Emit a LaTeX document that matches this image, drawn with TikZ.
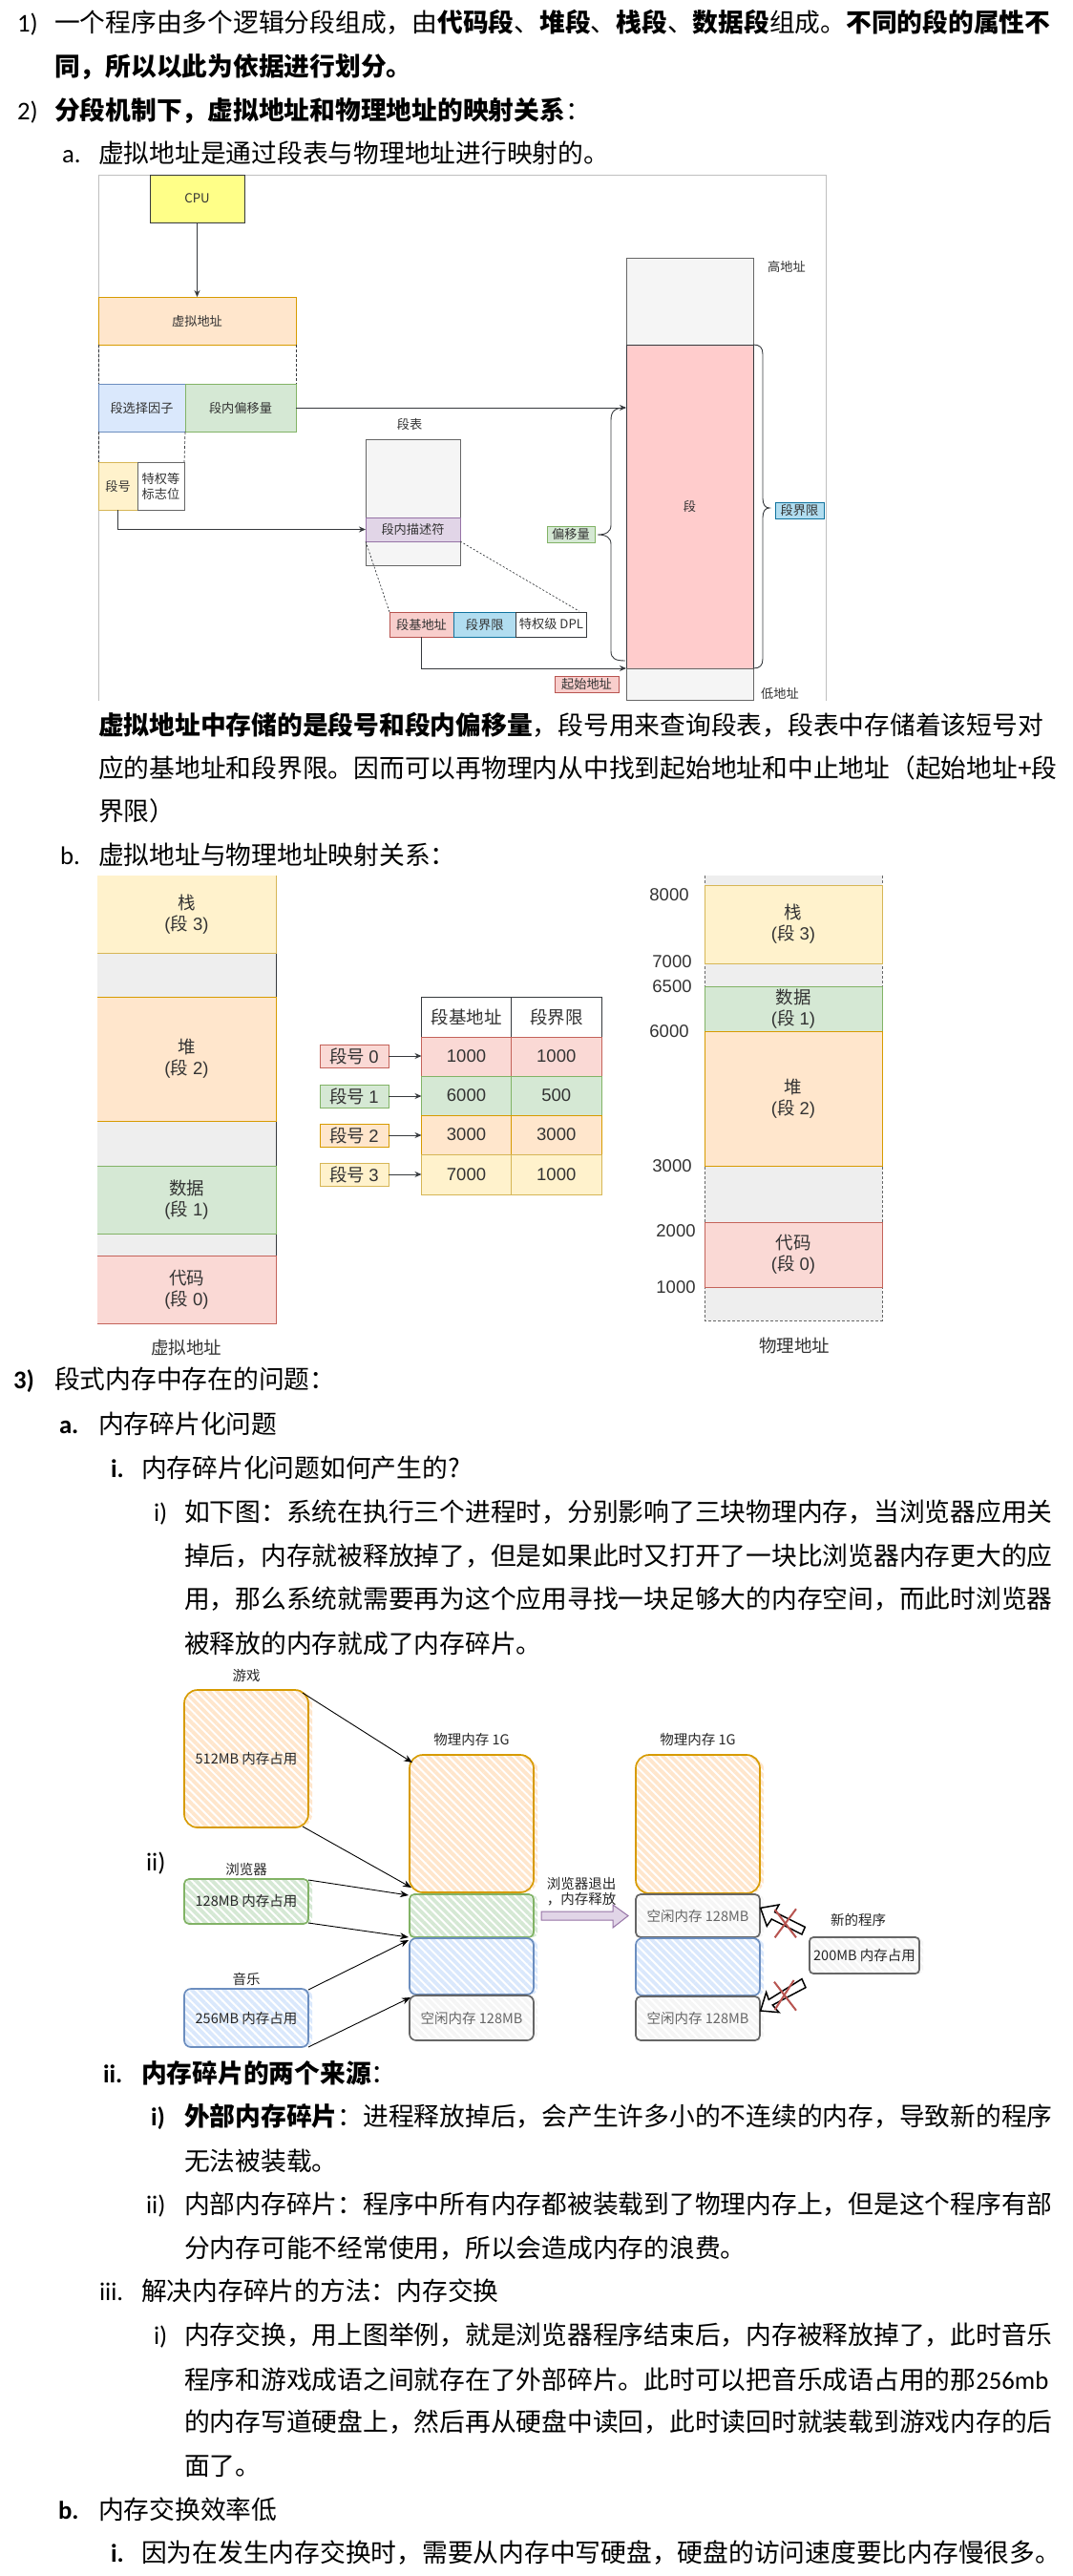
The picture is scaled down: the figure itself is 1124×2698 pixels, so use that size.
\documentclass[tikz,border=0pt]{standalone}
\usepackage{fontspec}
\setmainfont{Noto Sans CJK SC}
\newfontfamily\lib{Liberation Sans}
\newfontfamily\car{Carlito}
\usetikzlibrary{arrows.meta,patterns.meta}
\definecolor{cOrF}{HTML}{FFE6CC}\definecolor{cOrS}{HTML}{D79B00}
\definecolor{cGrF}{HTML}{D5E8D4}\definecolor{cGrS}{HTML}{82B366}
\definecolor{cBlF}{HTML}{DAE8FC}\definecolor{cBlS}{HTML}{6C8EBF}
\definecolor{cYeF}{HTML}{FFF2CC}\definecolor{cYeS}{HTML}{D6B656}
\definecolor{cReF}{HTML}{F8CECC}\definecolor{cReS}{HTML}{B85450}
\definecolor{cRdF}{HTML}{FAD9D5}\definecolor{cRdS}{HTML}{C4635A}
\definecolor{cPuF}{HTML}{E1D5E7}\definecolor{cPuS}{HTML}{9673A6}
\definecolor{cCyF}{HTML}{B1DDF0}\definecolor{cCyS}{HTML}{10739E}
\definecolor{cGyF}{HTML}{F5F5F5}\definecolor{cGyS}{HTML}{666666}
\definecolor{cDark}{HTML}{36393D}
\definecolor{cGap}{HTML}{EEEEEE}
\definecolor{cText}{HTML}{333333}
\definecolor{cCpu}{HTML}{FFFF88}
\definecolor{cSeg}{HTML}{FFCCCC}
\tikzset{
  x=1pt,y=-1pt,
  body/.style={anchor=base west,yshift=-9.7pt,inner sep=0pt,outer sep=0pt,font=\fontsize{26.75}{30}\selectfont},
  lab/.style={anchor=base west,yshift=-9.7pt,inner sep=0pt,outer sep=0pt,font=\car\fontsize{26.75}{30}\selectfont},
  labb/.style={lab,font=\car\bfseries\fontsize{26.75}{30}\selectfont},
  small/.style={font=\fontsize{13.2}{16}\selectfont,text=cText,align=center},
  big/.style={font=\fontsize{18.5}{22}\selectfont,text=cText,align=center},
  hand/.style={font=\fontsize{14.5}{16.5}\selectfont,text=black!85,align=center},
  boxs/.style n args={2}{draw=#2,fill=#1,line width=0.9pt},
  lnk/.style={draw=cDark,line width=0.9pt,-{Stealth[length=7pt,width=6pt]}},
  dashl/.style={draw=cDark,line width=0.7pt,dash pattern=on 3pt off 2pt},
  harrow/.style={draw=black,line width=0.9pt,-{Stealth[length=9pt,width=7pt]}},
  bracel/.style={draw=cDark,line width=0.9pt},
  crossl/.style={draw=cReS,line width=2pt},
}
\newcommand{\bx}[7]{%
  \pgfmathsetmacro\bxw{#4-#2}\pgfmathsetmacro\bxh{#5-#3}%
  \pgfmathsetmacro\bxx{(#2+#4)/2}\pgfmathsetmacro\bxy{(#3+#5)/2}%
  \node[#6,minimum width=\bxw pt,minimum height=\bxh pt,inner sep=0pt,outer sep=0pt] (#1) at (\bxx,\bxy) {#7};}
% hatched sketch box: name x1 y1 x2 y2 stroke hatch radius text
\newcommand{\hb}[9]{%
  \path[pattern={Lines[angle=-45,distance=6pt,line width=3.8pt]},pattern color=#7,rounded corners=#8pt] (#2+1,#3+1) rectangle (#4+4,#5);
  \bx{#1}{#2}{#3}{#4}{#5}{draw=#6,line width=1.7pt,rounded corners=#8pt,hand}{#9}}
\newcommand{\sg}[2]{#1\\{\lib(}段{\lib\ #2)}}
\begin{document}
\begin{tikzpicture}
\useasboundingbox (0,0) rectangle (1124,2698);
\fill[white] (0,0) rectangle (1124,2698);

% ---- text, top
\node[lab] (l1n) at (18,24) {1)};
\node[body] (l1) at (57,24) {一个程序由多个逻辑分段组成，由\textbf{代码段}、\textbf{堆段}、\textbf{栈段}、\textbf{数据段}组成。\textbf{不同的段的属性不}};
\node[body] (l2) at (57,70) {\textbf{同，所以以此为依据进行划分。}};
\node[lab] (l3n) at (18,116) {2)};
\node[body] (l3) at (57,116) {\textbf{分段机制下，虚拟地址和物理地址的映射关系}：};
\node[lab] (l4n) at (65,161) {a.};
\node[body] (l4) at (103,161) {虚拟地址是通过段表与物理地址进行映射的。};

% ---- diagram a
\draw[draw=black!25,line width=0.8pt] (103,734) -- (103,183) -- (865,183) -- (865,734);
\bx{cpu}{157}{183}{256}{233}{boxs={cCpu}{cDark},small}{CPU}
\bx{va}{103}{311}{310}{361}{boxs={cOrF}{cOrS},small}{虚拟地址}
\bx{sel}{103}{402}{194}{452}{boxs={cBlF}{cBlS},small}{段选择因子}
\bx{off}{194}{402}{310}{452}{boxs={cGrF}{cGrS},small}{段内偏移量}
\bx{segno}{103}{484}{144}{534}{boxs={cYeF}{cYeS},small}{段号}
\bx{priv}{144}{484}{193}{534}{boxs={white}{cGyS},small}{特权等\\标志位}
\draw[dashl] (va.south west) -- (sel.north west);
\draw[dashl] (va.south east) -- (off.north east);
\draw[dashl] (sel.south west) -- (segno.north west);
\draw[dashl] (sel.south east) -- (priv.north east);
\draw[lnk] (cpu.south) -- (cpu.south |- va.north);
\bx{high}{656}{270}{789}{361}{boxs={cGyF}{cGyS}}{}
\bx{seg}{656}{361}{789}{700}{boxs={cSeg}{cDark},small}{段}
\bx{low}{656}{700}{789}{733}{boxs={cGyF}{cGyS}}{}
\node[small] (hl) at (824,279) {高地址};
\node[small] (ll) at (817,727) {低地址};
\node[small] (tbl) at (429,444) {段表};
\bx{table}{383}{460}{482}{592}{boxs={cGyF}{cGyS}}{}
\bx{desc}{383}{542}{482}{567}{boxs={cPuF}{cPuS},small}{段内描述符}
\bx{base}{408}{641}{475}{667}{boxs={cReF}{cReS},small}{段基地址}
\bx{lim}{475}{641}{540.5}{667}{boxs={cCyF}{cCyS},small}{段界限}
\bx{dpl}{540.5}{641}{614.5}{667}{boxs={white}{cDark},small}{特权级 DPL}
\draw[lnk] (off.east) -- (off.east -| seg.west);
\draw[lnk] (segno.south) |- (desc.west);
\draw[dashl,dash pattern=on 2pt off 2pt] (desc.south west) -- (base.north west);
\draw[dashl,dash pattern=on 2pt off 2pt] (desc.south east) -- ([xshift=-8pt,yshift=1pt]dpl.north east);
\draw[lnk] (base.south) |- (seg.south west);
\draw[bracel] (655,427) .. controls (645,427) and (640,430) .. (640,440) -- (640,550) .. controls (640,557) and (635,560) .. (626,560) .. controls (635,560) and (640,563) .. (640,570) -- (640,682) .. controls (640,690) and (645,692) .. (655,692);
\draw[bracel] (789,361) .. controls (796,361) and (799,364) .. (799,371) -- (799,522) .. controls (799,529) and (802,532) .. (806,532) .. controls (802,532) and (799,535) .. (799,542) -- (799,690) .. controls (799,697) and (796,700) .. (789,700);
\bx{offl}{573}{551}{623}{568}{boxs={cGrF}{cGrS},small}{偏移量}
\bx{liml}{812}{526}{863}{543}{boxs={cCyF}{cCyS},small}{段界限}
\bx{startl}{581}{708}{648}{725}{boxs={cReF}{cReS},small}{起始地址}

% ---- text middle
\node[body] (m1) at (103,760) {\textbf{虚拟地址中存储的是段号和段内偏移量}，段号用来查询段表，段表中存储着该短号对};
\node[body] (m2) at (103,805) {应的基地址和段界限。因而可以再物理内从中找到起始地址和中止地址（起始地址+段};
\node[body] (m3) at (103,850) {界限）};
\node[lab] (m4n) at (63,896) {b.};
\node[body] (m4) at (103,896) {虚拟地址与物理地址映射关系：};

% ---- diagram b, left column
\bx{lstack}{102}{917}{289}{998}{fill=cYeF,big}{\sg{栈}{3}}
\bx{lg1}{102}{998}{289}{1044}{fill=cGap}{}
\bx{lheap}{102}{1044}{289}{1174}{fill=cOrF,big}{\sg{堆}{2}}
\bx{lg2}{102}{1174}{289}{1221}{fill=cGap}{}
\bx{ldata}{102}{1221}{289}{1292}{fill=cGrF,big}{\sg{数据}{1}}
\bx{lg3}{102}{1292}{289}{1315}{fill=cGap}{}
\bx{lcode}{102}{1315}{289}{1386}{fill=cRdF,big}{\sg{代码}{0}}
\draw[cDark,line width=0.9pt] (lg1.north east) -- (lg1.south east) (lg2.north east) -- (lg2.south east) (lg3.north east) -- (lg3.south east);
\draw[cYeS,line width=1pt] (lstack.north east) -- (lstack.south east) -- (lstack.south west);
\draw[cOrS,line width=1pt] (lheap.north west) -- (lheap.north east) -- (lheap.south east) -- (lheap.south west);
\draw[cGrS,line width=1pt] (ldata.north west) -- (ldata.north east) -- (ldata.south east) -- (ldata.south west);
\draw[cRdS,line width=1pt] (lcode.north west) -- (lcode.north east) -- (lcode.south east) -- (lcode.south west);
\node[big] (vlab) at (195,1411) {虚拟地址};

% ---- table
\bx{h1}{441.5}{1044}{535.5}{1086}{boxs={white}{cDark},big}{段基地址}
\bx{h2}{535.5}{1044}{630}{1086}{boxs={white}{cDark},big}{段界限}
\bx{r0a}{441.5}{1086}{535.5}{1127}{boxs={cRdF}{cRdS},big}{\lib 1000}
\bx{r0b}{535.5}{1086}{630}{1127}{boxs={cRdF}{cRdS},big}{\lib 1000}
\bx{r1a}{441.5}{1127}{535.5}{1168}{boxs={cGrF}{cGrS},big}{\lib 6000}
\bx{r1b}{535.5}{1127}{630}{1168}{boxs={cGrF}{cGrS},big}{\lib 500}
\bx{r2a}{441.5}{1168}{535.5}{1209}{boxs={cOrF}{cOrS},big}{\lib 3000}
\bx{r2b}{535.5}{1168}{630}{1209}{boxs={cOrF}{cOrS},big}{\lib 3000}
\bx{r3a}{441.5}{1209}{535.5}{1251}{boxs={cYeF}{cYeS},big}{\lib 7000}
\bx{r3b}{535.5}{1209}{630}{1251}{boxs={cYeF}{cYeS},big}{\lib 1000}
\bx{s0}{335}{1094}{407}{1118}{boxs={cRdF}{cRdS},big}{段号 {\lib 0}}
\bx{s1}{335}{1136}{407}{1160}{boxs={cGrF}{cGrS},big}{段号 {\lib 1}}
\bx{s2}{335}{1177}{407}{1201}{boxs={cOrF}{cOrS},big}{段号 {\lib 2}}
\bx{s3}{335}{1218}{407}{1242}{boxs={cYeF}{cYeS},big}{段号 {\lib 3}}
\draw[lnk] (s0.east) -- (s0.east -| r0a.west);
\draw[lnk] (s1.east) -- (s1.east -| r1a.west);
\draw[lnk] (s2.east) -- (s2.east -| r2a.west);
\draw[lnk] (s3.east) -- (s3.east -| r3a.west);

% ---- diagram b, right column
\bx{rbg}{738}{917}{924}{1383}{fill=cGap}{}
\draw[cGyS,line width=0.9pt,dash pattern=on 3pt off 2pt] (rbg.north west) -- (rbg.south west) -- (rbg.south east) -- (rbg.north east);
\bx{rstack}{738}{927}{924}{1009}{boxs={cYeF}{cYeS},big}{\sg{栈}{3}}
\bx{rdata}{738}{1033}{924}{1080}{boxs={cGrF}{cGrS},big}{\sg{数据}{1}}
\bx{rheap}{738}{1080}{924}{1221}{boxs={cOrF}{cOrS},big}{\sg{堆}{2}}
\bx{rcode}{738}{1280}{924}{1348}{boxs={cRdF}{cRdS},big}{\sg{代码}{0}}
\node[big] (n8) at (701,937) {\lib 8000};
\node[big] (n7) at (704,1007) {\lib 7000};
\node[big] (n65) at (704,1033) {\lib 6500};
\node[big] (n6) at (701,1080) {\lib 6000};
\node[big] (n3) at (704,1221) {\lib 3000};
\node[big] (n2) at (708,1289) {\lib 2000};
\node[big] (n1) at (708,1348) {\lib 1000};
\node[big] (plab) at (832,1409) {物理地址};

% ---- text, section 3
\node[labb] (t1n) at (14,1445) {3)};
\node[body] (t1) at (57,1445) {段式内存中存在的问题：};
\node[labb] (t2n) at (62,1492) {a.};
\node[body] (t2) at (103,1492) {内存碎片化问题};
\node[labb] (t3n) at (116,1538) {i.};
\node[body] (t3) at (148,1538) {内存碎片化问题如何产生的?};
\node[lab] (t4n) at (161,1584) {i)};
\node[body] (t4) at (193,1584) {如下图：系统在执行三个进程时，分别影响了三块物理内存，当浏览器应用关};
\node[body] (t5) at (193,1630) {掉后，内存就被释放掉了，但是如果此时又打开了一块比浏览器内存更大的应};
\node[body] (t6) at (193,1675) {用，那么系统就需要再为这个应用寻找一块足够大的内存空间，而此时浏览器};
\node[body] (t7) at (193,1722) {被释放的内存就成了内存碎片。};

% ---- diagram c
\node[lab,font=\car\fontsize{26.75}{30}\selectfont] (iilab) at (153,1950) {ii)};
\node[hand] (gl) at (258,1755) {游戏};
\node[hand] (bl) at (258,1958) {浏览器};
\node[hand] (ml) at (258,2073) {音乐};
\hb{game}{193}{1770}{323}{1914}{cOrS}{cOrF}{14}{512MB 内存占用}
\hb{brow}{193}{1968}{323}{2015}{cGrS}{cGrF}{5}{128MB 内存占用}
\hb{musi}{193}{2083}{323}{2144}{cBlS}{cBlF}{7}{256MB 内存占用}
\node[hand] (p1l) at (494,1822) {物理内存 \textit{1G}};
\hb{mo}{429}{1838}{559}{1982}{cOrS}{cOrF}{14}{}
\hb{mg}{429}{1984}{559}{2029}{cGrS}{cGrF}{5}{}
\hb{mb}{429}{2030}{559}{2089}{cBlS}{cBlF}{7}{}
\hb{mf}{429}{2090}{559}{2137}{cGyS}{cGyF}{7}{\textcolor{cGyS}{空闲内存 128MB}}
\draw[harrow] ([xshift=-6pt,yshift=-3pt]game.north east) -- ([xshift=3pt,yshift=-8pt]mo.north west);
\draw[harrow] ([xshift=-6pt,yshift=1pt]game.south east) -- ([xshift=2pt,yshift=5pt]mo.south west);
\draw[harrow] ([yshift=-1pt]brow.north east) -- ([xshift=-1pt,yshift=-1pt]mg.north west);
\draw[harrow] ([yshift=1pt]brow.south east) -- ([xshift=-1pt]mg.south west);
\draw[harrow] ([yshift=-1pt]musi.north east) -- ([xshift=-1pt,yshift=-2pt]mb.north west);
\draw[harrow] (musi.south east) -- ([xshift=1pt,yshift=-2pt]mf.north west);
% released arrow
\draw[fill=cPuF,draw=cPuS,line width=1pt] (567,2002) -- (642,2002) -- (642,1995) -- (658,2006.5) -- (642,2019) -- (642,2011) -- (567,2011) -- cycle;
\node[hand] (rel) at (609,1981) {浏览器退出\\，内存释放};
\node[hand] (p2l) at (731,1822) {物理内存 \textit{1G}};
\hb{no}{666}{1838}{796}{1983}{cOrS}{cOrF}{14}{}
\hb{nf1}{666}{1984}{796}{2029}{cGyS}{cGyF}{5}{\textcolor{cGyS}{空闲内存 128MB}}
\hb{nb}{666}{2030}{796}{2090}{cBlS}{cBlF}{7}{}
\hb{nf2}{666}{2091}{796}{2137}{cGyS}{cGyF}{5}{\textcolor{cGyS}{空闲内存 128MB}}
\node[hand] (npl) at (899,2011) {新的程序};
\hb{np}{848}{2029}{963}{2067}{cGyS}{cGyF}{4}{200MB 内存占用}
% hollow block arrows (zoom coordinates /3 + origin 530,1780)
\begin{scope}[shift={(530,1780)},x=0.3333pt,y=-0.3333pt]
\draw[fill=white,draw=black,line width=1.5pt,line join=miter] (800,655) -- (858,645) -- (845,668) -- (940,715) -- (930,738) -- (835,690) -- (820,712) -- cycle;
\draw[fill=white,draw=black,line width=1.5pt,line join=miter] (800,978) -- (858,983) -- (838,960) -- (942,905) -- (930,878) -- (826,943) -- (818,920) -- cycle;
\draw[crossl] (845,660) -- (912,748);
\draw[crossl] (912,658) -- (845,748);
\draw[crossl] (843,887) -- (912,977);
\draw[crossl] (905,882) -- (845,975);
\end{scope}

% ---- text, bottom
\node[labb] (b1n) at (108,2172) {ii.};
\node[body] (b1) at (148,2172) {\textbf{内存碎片的两个来源}：};
\node[labb] (b2n) at (158,2217) {i)};
\node[body] (b2) at (193,2217) {\textbf{外部内存碎片}：进程释放掉后，会产生许多小的不连续的内存，导致新的程序};
\node[body] (b3) at (193,2264) {无法被装载。};
\node[lab] (b4n) at (153,2309) {ii)};
\node[body] (b4) at (193,2309) {内部内存碎片：程序中所有内存都被装载到了物理内存上，但是这个程序有部};
\node[body] (b5) at (193,2355) {分内存可能不经常使用，所以会造成内存的浪费。};
\node[lab] (b6n) at (104,2400) {iii.};
\node[body] (b6) at (148,2400) {解决内存碎片的方法：内存交换};
\node[lab] (b7n) at (161,2446) {i)};
\node[body] (b7) at (193,2446) {内存交换，用上图举例，就是浏览器程序结束后，内存被释放掉了，此时音乐};
\node[body] (b8) at (193,2493) {程序和游戏成语之间就存在了外部碎片。此时可以把音乐成语占用的那{\car 256mb}};
\node[body] (b9) at (193,2537) {的内存写道硬盘上，然后再从硬盘中读回，此时读回时就装载到游戏内存的后};
\node[body] (b10) at (193,2583) {面了。};
\node[labb] (b11n) at (61,2629) {b.};
\node[body] (b11) at (103,2629) {内存交换效率低};
\node[labb] (b12n) at (116,2674) {i.};
\node[body] (b12) at (148,2674) {因为在发生内存交换时，需要从内存中写硬盘，硬盘的访问速度要比内存慢很多。};
\end{tikzpicture}
\end{document}
